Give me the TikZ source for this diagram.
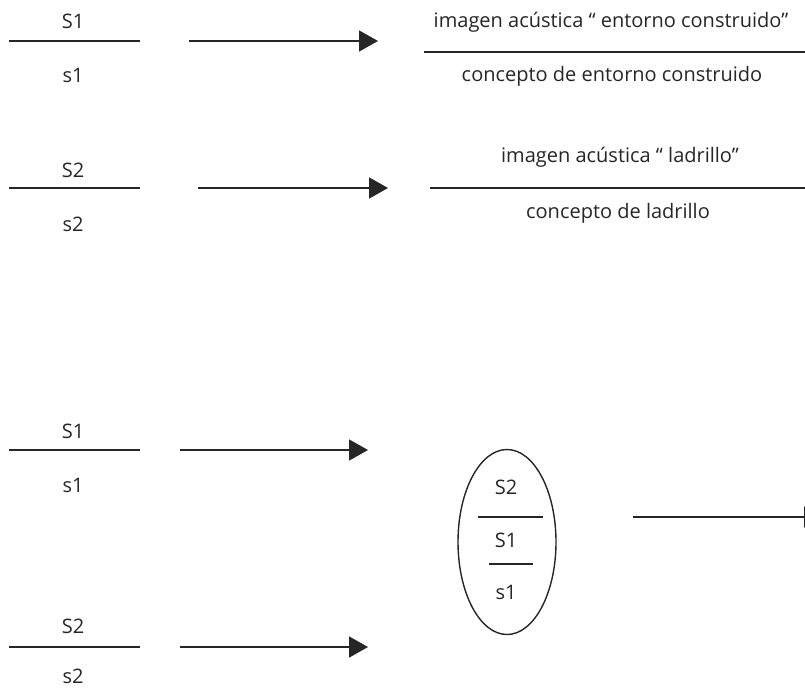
\documentclass[tikz,border=0pt]{standalone}
\usepackage{fontspec}
\setmainfont{Open Sans}
\usetikzlibrary{arrows.meta,shapes.geometric}
\definecolor{ink}{HTML}{262626}

\begin{document}
\begin{tikzpicture}[x=1pt,y=-1pt,ink,line width=1.8pt,
  font=\fontsize{20}{24}\selectfont,
  flecha/.style={-{Triangle[length=19pt,width=21pt]}}]
  \useasboundingbox (0,0) rectangle (805,693);
  % primer signo: entorno construido
  \node (S1a) at (73,21.5) {S1};
  \node (s1a) at (73,75.5) {s1};
  \draw (9,41) -- (140,41);
  \coordinate (a1) at (189,41);
  \coordinate (b1) at (378,41);
  \draw[flecha] (a1) -- (b1);
  \node (img1) at (611,22) {imagen acústica “ entorno construido”};
  \node (con1) at (612,76) {concepto de entorno construido};
  \draw (424,52) -- (805,52);
  % segundo signo: ladrillo
  \node (S2a) at (73,170) {S2};
  \node (s2a) at (73,224) {s2};
  \draw (9,188) -- (140,188);
  \coordinate (a2) at (198,188);
  \coordinate (b2) at (388,188);
  \draw[flecha] (a2) -- (b2);
  \node (img2) at (620,157) {imagen acústica “ ladrillo”};
  \node (con2) at (618,213) {concepto de ladrillo};
  \draw (430,188) -- (805,188);
  % connotacion
  \node (S1b) at (73,431.5) {S1};
  \node (s1b) at (73,485.5) {s1};
  \draw (9,450) -- (140,450);
  \coordinate (a3) at (180,450);
  \coordinate (b3) at (368,450);
  \draw[flecha] (a3) -- (b3);
  \node (S2b) at (73,626) {S2};
  \node (s2b) at (73,676.5) {s2};
  \draw (9,647) -- (140,647);
  \coordinate (a4) at (180,647);
  \coordinate (b4) at (368,647);
  \draw[flecha] (a4) -- (b4);
  \node (elipse) [draw, ellipse, inner sep=0pt, line width=1.4pt,
    minimum width=98pt, minimum height=185pt] at (507,542) {};
  \node (S2c) at (506,487) {S2};
  \node (S1c) at (506,540) {S1};
  \node (s1c) at (506,592.5) {s1};
  \draw (478,517) -- (543,517);
  \draw (489,564) -- (533,564);
  \coordinate (a5) at (633,517);
  \coordinate (b5) at (823,517);
  \draw[flecha] (a5) -- (b5);
\end{tikzpicture}
\end{document}
